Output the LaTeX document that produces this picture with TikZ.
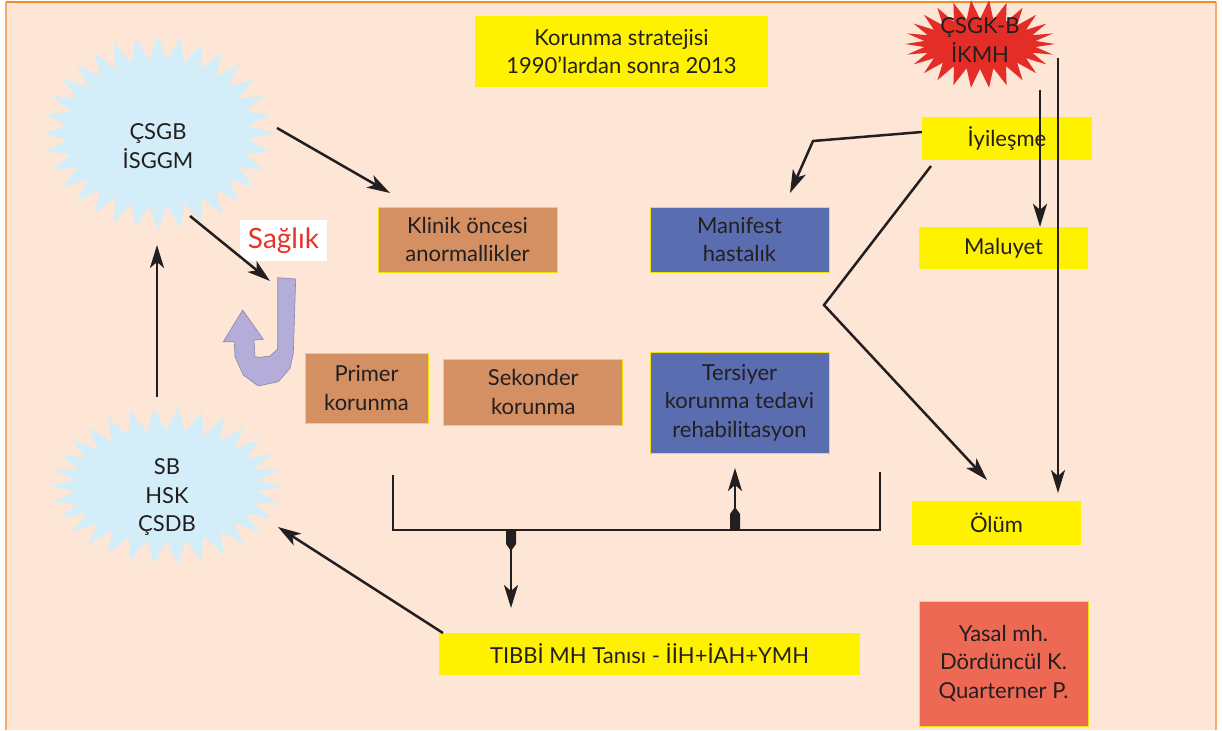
\documentclass[tikz,border=0pt]{standalone}
\usepackage{fontspec}
\setmainfont{Lato}
\usetikzlibrary{arrows.meta}
\definecolor{bg}{HTML}{FDE6D5}
\definecolor{frameT}{HTML}{F08A2C}
\definecolor{frameS}{HTML}{F9A866}
\definecolor{yel}{HTML}{FFF200}
\definecolor{brn}{HTML}{D49062}
\definecolor{blu}{HTML}{5A6DB0}
\definecolor{yb}{HTML}{F2E000}
\definecolor{lblue}{HTML}{D3EEF9}
\definecolor{rburst}{HTML}{E52D27}
\definecolor{purp}{HTML}{B4ADDA}
\definecolor{purpD}{HTML}{8A86A8}
\definecolor{yasalc}{HTML}{EE6953}
\definecolor{txt}{HTML}{231F20}
\definecolor{sred}{HTML}{E63329}
\newcommand\fsz{\fontsize{22}{28.5}\selectfont}
% burst: cx, cy, ax, ay, spike, lastindex, colour
\newcommand\drawburst[7]{\fill[#7] plot[variable=\t, samples at={0,...,#6}] ({#1+(#3-#5*mod(\t,2))*cos(\t*(360/(#6+1)))},{#2+(#4-#5*mod(\t,2))*sin(\t*(360/(#6+1)))}) -- cycle;}
\tikzset{
  box/.style={inner sep=0pt, align=center, font=\fsz, text=txt},
  ybox/.style={box, fill=yel},
  bbox/.style={box, fill=brn, draw=yb, line width=1pt},
  blbox/.style={box, fill=blu, draw=yb, line width=1pt},
  rbox/.style={box, fill=yasalc, draw=yb, line width=1pt},
  btext/.style={inner sep=0pt, align=center, font=\fsz, text=txt},
  conn/.style={draw=txt, line width=2.5pt},
  arr/.style={conn, -{Stealth[length=23pt,width=14pt,inset=6pt]}},
}
\begin{document}
\begin{tikzpicture}[x=1pt,y=-1pt]
\useasboundingbox (0,0) rectangle (1222,730);
\fill[white] (0,0) rectangle (1222,730);
\fill[bg] (6,2) rectangle (1216,730);
\draw[frameS, line width=1.5pt] (6,730) -- (6,2) (1216,2) -- (1216,730);
\draw[frameT, line width=1.5pt] (6,2) -- (1216,2);

% bursts
\drawburst{158}{133}{115}{97}{24}{63}{lblue}
\drawburst{166}{486}{116}{79}{24}{59}{lblue}
\drawburst{980}{44}{75}{44}{19}{51}{rburst}

\node[btext] (csgb) at (158,146) {ÇSGB\\İSGGM};
\node[btext] (sb) at (167,497) {SB\\HSK\\ÇSDB};
\node[btext] (csgkb) at (980,40) {ÇSGK-B\\İKMH};

% boxes
\node[ybox, minimum width=293, minimum height=71] (korunma) at (621.5,51.5) {Korunma stratejisi\\1990’lardan sonra 2013};
\node[ybox, minimum width=170, minimum height=43] (iyilesme) at (1007,138.5) {İyileşme};
\node[ybox, minimum width=169, minimum height=42] (maluyet) at (1003.5,248) {Maluyet};
\node[ybox, minimum width=169, minimum height=44] (olum) at (996.5,523) {Ölüm};
\node[rbox, minimum width=169, minimum height=125] (yasal) at (1003.5,663.5) {Yasal mh.\\Dördüncül K.\\Quarterner P.};
\node[ybox, minimum width=421, minimum height=42] (tibbi) at (649.5,654) {TIBBİ MH Tanısı - İİH+İAH+YMH};
\node[bbox, minimum width=179, minimum height=65] (klinik) at (467.5,239.5) {Klinik öncesi\\anormallikler};
\node[blbox, minimum width=179, minimum height=65] (manifest) at (739.5,239.5) {Manifest\\hastalık};
\node[bbox, minimum width=123, minimum height=70] (primer) at (366.5,388) {Primer\\korunma};
\node[bbox, minimum width=179, minimum height=66] (sekonder) at (533.3,392) {Sekonder\\korunma};
\node[blbox, minimum width=179, minimum height=101] (tersiyer) at (739.5,402.5) {Tersiyer\\korunma tedavi\\rehabilitasyon};
\node[fill=white, inner sep=0pt, minimum width=87, minimum height=41, text=sred, font=\fontsize{28}{30}\selectfont] (saglik) at (283.5,240.5) {Sağlık};

% purple U-turn arrow
\filldraw[fill=purp, draw=purpD, line width=0.6pt] (277.7,277.7) -- (295.7,279) -- (293.3,353.3) -- (290,368.3) -- (278.3,381.7) -- (258.3,386) -- (243.3,375) -- (235,356.7) -- (234.3,341.7) -- (223.3,341.7) -- (242.7,310) -- (263.3,339.3) -- (254,340) -- (255,356.7) -- (260,357.3) -- (270,356) -- (277.7,349) -- cycle;
\coordinate (uturn) at (270,281);

% connector end points
\coordinate (csgbE) at (277,128);
\coordinate (csgbS) at (190,216);
\coordinate (sbN) at (157,397);
\coordinate (csgbB) at (157,245);
\coordinate (sbE) at (278,527);
\coordinate (tibbiW) at (443,633);
\coordinate (klinikT) at (390,193);
\coordinate (bend1) at (813,141);
\coordinate (manT) at (790,193);
\coordinate (iyiB) at (931,166);
\coordinate (bend2) at (824,305);
\coordinate (olumT) at (987,480);
\coordinate (v1) at (1040,90);
\coordinate (v2) at (1058,58);
\coordinate (v2e) at (1058,493);
\coordinate (brL) at (393,475);
\coordinate (brR) at (880,472);
\coordinate (downS) at (511,550);
\coordinate (downE) at (511,608);
\coordinate (upS) at (735,508);
\coordinate (upE) at (735,468);

\draw[arr] (csgbE) -- (klinikT);
\draw[arr] (csgbS) -- (uturn);
\draw[arr] (sbN) -- (csgbB);
\draw[arr] (tibbiW) -- (sbE);
\draw[arr] (iyilesme.west |- 0,132) -- (bend1) -- (manT);
\draw[arr] (iyiB) -- (bend2) -- (olumT);
\draw[arr] (v1) -- (v1 |- maluyet.north);
\draw[arr] (v2) -- (v2e);

% bracket
\draw[conn] (brL) |- (880,530) -- (brR);
\fill[txt] (506,530) -- (516,530) -- (516,544) -- (511,551) -- (506,544) -- cycle;
\draw[arr] (downS) -- (downE);
\fill[txt] (730,530) -- (740,530) -- (740,514) -- (735,507) -- (730,514) -- cycle;
\draw[arr] (upS) -- (upE);
\end{tikzpicture}
\end{document}
